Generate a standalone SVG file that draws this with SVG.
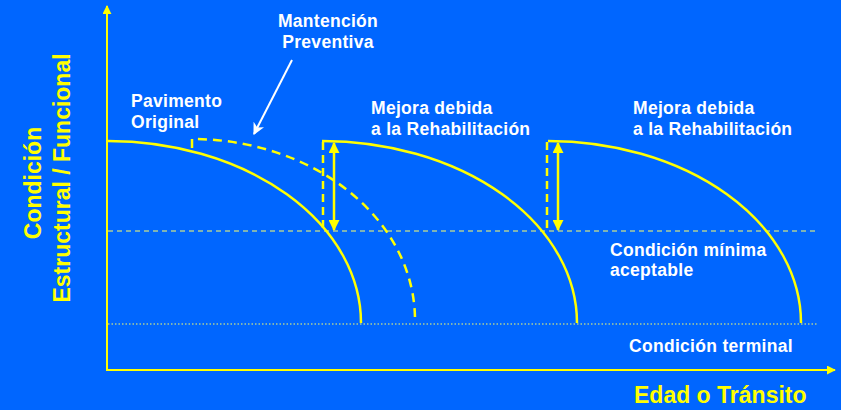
<svg xmlns="http://www.w3.org/2000/svg" width="841" height="410" viewBox="0 0 841 410">
<defs>
<style>
.bg{fill:#0066FF}
.ax{stroke:#FFFF00;stroke-width:2;fill:none}
.cv{stroke:#FFFF00;stroke-width:2.5;fill:none}
.dcv{stroke:#FFFF00;stroke-width:2.5;fill:none;stroke-dasharray:9 6}
.dv{stroke:#FFFF00;stroke-width:2.5;fill:none;stroke-dasharray:8 5}
.ref{stroke:#FFFF66;stroke-width:1;fill:none;stroke-dasharray:5 4}
.term{stroke:#FFFF66;stroke-width:1.2;fill:none;stroke-dasharray:1.5 2}
.dbl{stroke:#FFFF00;stroke-width:2.5;fill:none;marker-start:url(#ah);marker-end:url(#ah)}
.wt{fill:#FFFFFF;font-family:'Liberation Sans',Arial,sans-serif;font-weight:bold;font-size:17.5px;letter-spacing:0.3px}
.yt{fill:#FFFF00;font-family:'Liberation Sans',Arial,sans-serif;font-weight:bold;font-size:23px}
</style>
<marker id="ah" viewBox="0 0 10 10" refX="9" refY="5" markerWidth="4.4" markerHeight="4.4" orient="auto-start-reverse" markerUnits="strokeWidth">
<path d="M0,0 L10,5 L0,10 z" fill="#FFFF00"/>
</marker>
<marker id="axh" viewBox="0 0 10 10" refX="9" refY="5" markerWidth="4.5" markerHeight="4.5" orient="auto" markerUnits="strokeWidth">
<path d="M0,0 L10,5 L0,10 z" fill="#FFFF00"/>
</marker>
<marker id="wh" viewBox="0 0 10 10" refX="9" refY="5" markerWidth="6" markerHeight="6" orient="auto" markerUnits="strokeWidth">
<path d="M0,0 L10,5 L0,10 L3,5 z" fill="#FFFFFF"/>
</marker>
</defs>
<rect class="bg" x="0" y="0" width="841" height="410"/>

<g id="axes">
<line class="ax" x1="107" y1="371" x2="107" y2="6" marker-end="url(#axh)"/>
<line class="ax" x1="106" y1="370" x2="835" y2="370" marker-end="url(#axh)"/>
</g>

<g id="reference-lines">
<line class="ref" x1="108" y1="231" x2="818" y2="231"/>
<line class="term" x1="108" y1="324" x2="818" y2="324"/>
</g>

<g id="connectors">
<path id="curve-original" class="cv" d="M108,141 A253 182 0 0 1 361,323"/>
<path id="curve-preventive" class="dcv" d="M192,148 L192,139 A223 181 0 0 1 415,320"/>
<path id="curve-rehab1" class="cv" d="M322,141 A255 182 0 0 1 577,323"/>
<path id="curve-rehab2" class="cv" d="M548,141 A253 182 0 0 1 801,323"/>
<line class="dv" x1="323" y1="142" x2="323" y2="231"/>
<line class="dbl" x1="334" y1="143" x2="334" y2="230"/>
<line class="dv" x1="547" y1="142" x2="547" y2="231"/>
<line class="dbl" x1="558" y1="143" x2="558" y2="230"/>
<line stroke="#FFFFFF" stroke-width="2" x1="292" y1="60" x2="254" y2="134" marker-end="url(#wh)"/>
</g>

<g id="label-pavimento"><text class="wt" x="131" y="107">Pavimento</text><text class="wt" x="131" y="128">Original</text></g>
<g id="label-mantencion"><text class="wt" x="328" y="27" text-anchor="middle">Mantención</text><text class="wt" x="328" y="48" text-anchor="middle">Preventiva</text></g>
<g id="label-rehab1"><text class="wt" x="371" y="114">Mejora debida</text><text class="wt" x="371" y="135">a la Rehabilitación</text></g>
<g id="label-rehab2"><text class="wt" x="633" y="114">Mejora debida</text><text class="wt" x="633" y="135">a la Rehabilitación</text></g>
<g id="label-minima"><text class="wt" x="610" y="256">Condición mínima</text><text class="wt" x="610" y="276">aceptable</text></g>
<g id="label-terminal"><text class="wt" x="629" y="352">Condición terminal</text></g>
<g id="label-x"><text class="yt" x="634" y="403">Edad o Tránsito</text></g>
<g id="label-y" transform="rotate(-90)">
<text class="yt" x="-183" y="41" text-anchor="middle">Condición</text>
<text class="yt" x="-178" y="70" text-anchor="middle">Estructural / Funcional</text>
</g>
</svg>
